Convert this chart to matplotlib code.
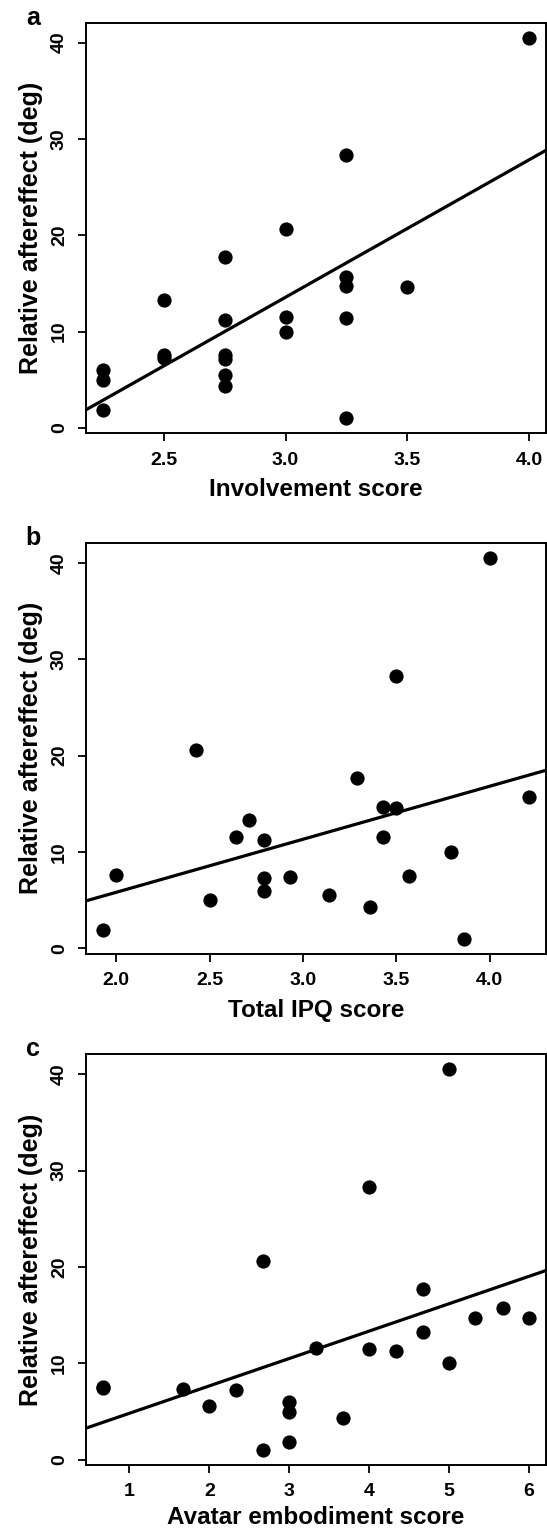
import numpy as np
import matplotlib
matplotlib.use("Agg")
import matplotlib.pyplot as plt

plt.rcParams['font.family'] = ['Liberation Sans', 'DejaVu Sans']

# relative aftereffect (deg), shared y label
ylabel = "Relative aftereffect (deg)"

# panel a: involvement score
invol_x = [4.0, 3.25, 3.0, 2.75, 3.25, 3.25, 3.5, 2.5, 2.75, 3.0, 3.25,
           3.0, 2.5, 2.5, 2.75, 2.75, 2.75, 2.75, 2.25, 2.25, 2.25, 3.25]
invol_y = [40.5, 28.3, 20.6, 17.7, 15.7, 14.7, 14.65, 13.3, 11.2, 11.5, 11.4,
           10.0, 7.6, 7.3, 7.6, 7.1, 5.5, 4.3, 6.0, 5.0, 1.9, 1.0]

# panel b: total IPQ score
ipq_x = [1.93, 2.0, 2.43, 2.5, 2.64, 2.71, 2.79, 2.79, 2.79, 2.93, 3.14,
         3.29, 3.36, 3.43, 3.43, 3.5, 3.5, 3.57, 3.79, 3.86, 4.0, 4.21]
ipq_y = [1.9, 7.6, 20.6, 5.0, 11.6, 13.3, 11.2, 7.3, 6.0, 7.4, 5.5,
         17.7, 4.3, 14.7, 11.5, 14.6, 28.3, 7.5, 10.0, 1.0, 40.5, 15.7]

# panel c: avatar embodiment score
avatar_x = [0.67, 0.67, 1.67, 2.0, 2.33, 2.67, 2.67, 3.0, 3.0, 3.0, 3.33,
            3.67, 4.0, 4.0, 4.33, 4.67, 4.67, 5.0, 5.0, 5.33, 5.67, 6.0]
avatar_y = [7.6, 7.5, 7.4, 5.6, 7.2, 20.6, 1.05, 6.0, 5.0, 1.9, 11.6,
            4.35, 28.3, 11.5, 11.25, 17.7, 13.3, 40.5, 10.0, 14.7, 15.7, 14.7]

panels = [
    ("a", invol_x, invol_y, "Involvement score", [2.5, 3.0, 3.5, 4.0], "%.1f", 7),
    ("b", ipq_x, ipq_y, "Total IPQ score", [2.0, 2.5, 3.0, 3.5, 4.0], "%.1f", 7),
    ("c", avatar_x, avatar_y, "Avatar embodiment score", [1, 2, 3, 4, 5, 6], "%d", 4),
]

# axes boxes in figure fractions [left, bottom, width, height]
boxes = [
    [0.1572, 0.7167, 0.8410, 0.2685],
    [0.1572, 0.3765, 0.8410, 0.2688],
    [0.1572, 0.0425, 0.8410, 0.2686],
]

fig = plt.figure(figsize=(5.47, 15.30), dpi=100)

for (letter, xs, ys, xlabel, xticks, fmt, xpad), box in zip(panels, boxes):
    ax = fig.add_axes(box)
    xs = np.array(xs)
    ys = np.array(ys)

    ax.scatter(xs, ys, s=105, color='black', zorder=3, linewidths=0)

    # R style axis ranges (4% padding)
    xr = xs.max() - xs.min()
    yr = ys.max() - ys.min()
    ax.set_xlim(xs.min() - 0.04 * xr, xs.max() + 0.04 * xr)
    ax.set_ylim(ys.min() - 0.04 * yr, ys.max() + 0.04 * yr)

    # least squares line across the whole plot (abline)
    slope, icpt = np.polyfit(xs, ys, 1)
    ax.axline((0, icpt), slope=slope, color='black', lw=2.3)

    ax.set_xticks(xticks)
    ax.set_xticklabels([fmt % t for t in xticks])
    ax.set_yticks([0, 10, 20, 30, 40])
    ax.tick_params(direction='out', length=6, width=1.3, labelsize=14, pad=7)
    for lab in ax.get_xticklabels() + ax.get_yticklabels():
        lab.set_fontweight('bold')
    for lab in ax.get_yticklabels():
        lab.set_rotation(90)
        lab.set_va('center')

    for sp in ax.spines.values():
        sp.set_linewidth(1.4)

    ax.set_xlabel(xlabel, fontsize=17.5, fontweight='bold', labelpad=xpad)
    ax.set_ylabel(ylabel, fontsize=18, fontweight='bold', labelpad=6)
    ax.text(-0.115, 1.012, letter, transform=ax.transAxes, fontsize=18,
            fontweight='bold', ha='center', va='center')

fig.savefig("out.png", dpi=100)
